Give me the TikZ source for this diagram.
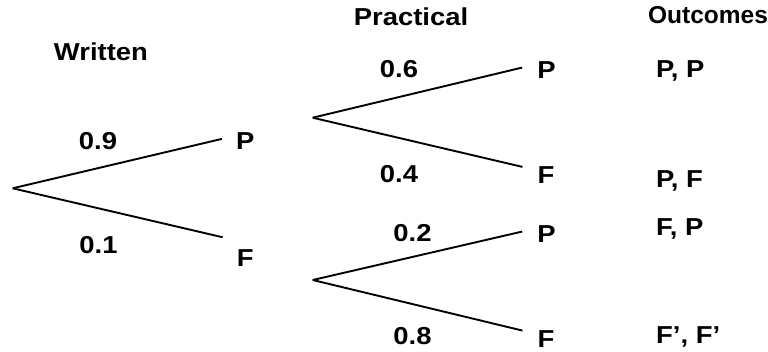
\documentclass[tikz,border=0pt]{standalone}
\usepackage{fontspec}
\setmainfont{Liberation Sans}[FakeStretch=1.12]
\newfontfamily\headfont{Liberation Sans}
\usepackage{tikz}

\begin{document}
\begin{tikzpicture}[x=1pt,y=-1pt]
  \tikzstyle{txt}=[inner sep=0pt,anchor=base,
    font=\fontsize{24.5}{29}\selectfont\bfseries]
  \tikzstyle{outc}=[txt,anchor=base west]
  \tikzstyle{br}=[line width=1.9pt]
  \useasboundingbox (0,0) rectangle (768,351);
  % column heads
  \node[txt] (written) at (101,60) {Written};
  \node[txt] (practical) at (411,25) {Practical};
  \node[txt,font=\fontsize{24.5}{29}\headfont\bfseries] (outcomes) at (708,23) {Outcomes};
  % written test
  \coordinate (root) at (12.7,188.3);
  \node[txt] (wP) at (245.3,149.3) {P};
  \node[txt] (wF) at (245.3,266.7) {F};
  \node[txt] (w9) at (98,149.3) {0.9};
  \node[txt] (w1) at (98.5,253.3) {0.1};
  \draw[br] (root)--([xshift=-14pt,yshift=2pt]wP.west);
  \draw[br] (root)--([xshift=-14pt,yshift=21pt]wF.west);
  % practical test
  \coordinate (rootP) at (312.7,117.7);
  \coordinate (rootF) at (312.7,280);
  \node[txt] (pPP) at (546.5,78) {P};
  \node[txt] (pPF) at (546,183.3) {F};
  \node[txt] (pFP) at (546.5,242) {P};
  \node[txt] (pFF) at (546,347) {F};
  \node[txt] (p6) at (399,77) {0.6};
  \node[txt] (p4) at (399,182) {0.4};
  \node[txt] (p2) at (412.5,241) {0.2};
  \node[txt] (p8) at (412.5,344) {0.8};
  \draw[br] (rootP)--([xshift=-15pt,yshift=2pt]pPP.west);
  \draw[br] (rootP)--([xshift=-15pt,yshift=8pt]pPF.west);
  \draw[br] (rootF)--([xshift=-15pt,yshift=2pt]pFP.west);
  \draw[br] (rootF)--([xshift=-15pt,yshift=8pt]pFF.west);
  % outcomes
  \node[outc] (oPP) at (656,77) {P, P};
  \node[outc] (oPF) at (656,187) {P, F};
  \node[outc] (oFP) at (656,235) {F, P};
  \node[outc] (oFF) at (656,343) {F’, F’};
\end{tikzpicture}
\end{document}
